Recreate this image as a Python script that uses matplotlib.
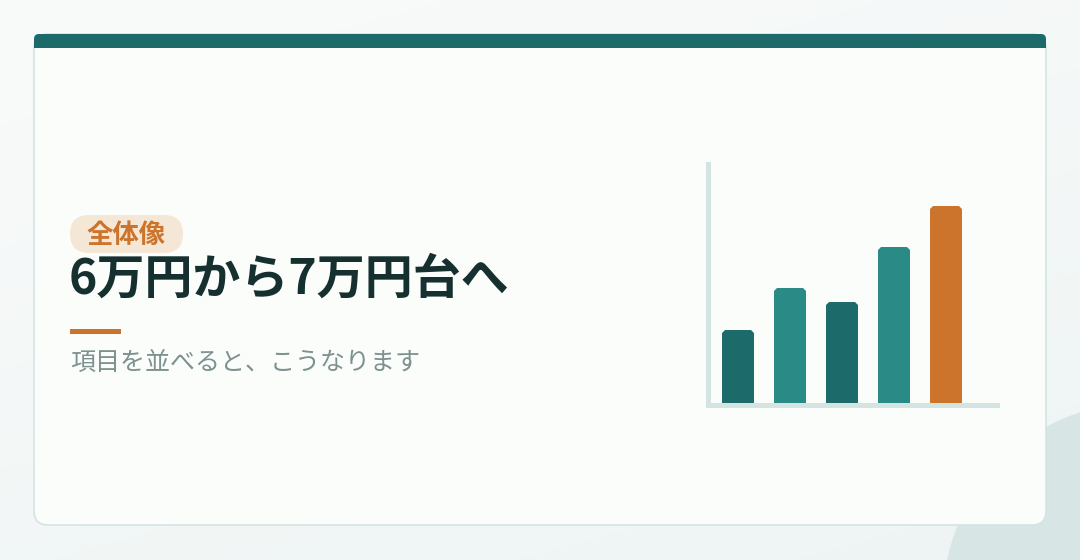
import numpy as np
import matplotlib
matplotlib.use("Agg")
import matplotlib.pyplot as plt
from matplotlib.patches import FancyBboxPatch, Circle, Rectangle

# ---- data ----
categories = ["項目1", "項目2", "項目3", "項目4", "項目5"]
values = [36.0, 57.3, 50.1, 77.8, 98.5]
bar_colors = ["#1d6a6a", "#2a8a85", "#1d6a6a", "#2a8a85", "#cc742b"]
badge_text = "全体像"
title_text = "6万円から7万円台へ"
subtitle_text = "項目を並べると、こうなります"

FONT = ["Noto Sans CJK JP", "DejaVu Sans"]
plt.rcParams["font.family"] = FONT

W, H = 1080, 560
fig = plt.figure(figsize=(W / 100, H / 100), dpi=100)

# background axes in pixel coordinates
bg = fig.add_axes([0, 0, 1, 1])
bg.set_xlim(0, W)
bg.set_ylim(H, 0)
bg.axis("off")

# gradient background
grad = np.linspace(0, 1, 256)
gx, gy = np.meshgrid(grad, grad)
t = (0.35 * gx + 0.65 * gy)
c0 = np.array([0xf9, 0xfb, 0xfa]) / 255
c1 = np.array([0xee, 0xf4, 0xf4]) / 255
img = c0[None, None, :] * (1 - t[..., None]) + c1[None, None, :] * t[..., None]
bg.imshow(img, extent=[0, W, H, 0], aspect="auto", zorder=0)

# decorative circle
bg.add_patch(Circle((1140, 600), 197, facecolor="#d7e6e5", edgecolor="none", zorder=1))

# card
bg.add_patch(FancyBboxPatch((34, 34), 1012, 491, boxstyle="round,pad=0,rounding_size=14",
                            facecolor="#fbfdfb", edgecolor="#d4e4e3", linewidth=1.2, zorder=2))
# top bar
bg.add_patch(FancyBboxPatch((34, 34), 1012, 14, boxstyle="round,pad=0,rounding_size=5",
                            facecolor="#1d6a6a", edgecolor="none", zorder=3))
bg.add_patch(Rectangle((34, 42), 1012, 6, facecolor="#1d6a6a", edgecolor="none", zorder=3))

# badge pill
bg.add_patch(FancyBboxPatch((70, 215), 113, 38, boxstyle="round,pad=0,rounding_size=19",
                            facecolor="#f5e7d6", edgecolor="none", zorder=3))
bg.text(126, 243, badge_text, ha="center", va="baseline", fontsize=19,
        fontweight="bold", color="#cc742b", family=FONT, zorder=4)

# title
bg.text(69, 294, title_text, ha="left", va="baseline", fontsize=34.6,
        fontweight="bold", color="#15302e", family=FONT, zorder=4)

# orange rule
bg.add_patch(Rectangle((70, 329), 51, 5, facecolor="#cc742b", edgecolor="none", zorder=3))

# subtitle
bg.text(70, 369.5, subtitle_text, ha="left", va="baseline", fontsize=18,
        color="#7d918f", family=FONT, zorder=4)

# ---- bar chart ----
left_px, right_px = 707.5, 996.5
top_px, bot_px = 164.5, 404.5
ax = fig.add_axes([left_px / W, 1 - bot_px / H, (right_px - left_px) / W, (bot_px - top_px) / H])
ax.set_facecolor("none")
x = np.arange(len(categories))
ax.bar(x, values, width=0.5, color=bar_colors, edgecolor=bar_colors,
       linewidth=4.3, joinstyle="bevel", zorder=1)
ax.set_xlim(-0.5865, 4.971)
ax.set_ylim(0, 120.9)
ax.set_xticks([])
ax.set_yticks([])
for s in ["top", "right"]:
    ax.spines[s].set_visible(False)
for s in ["left", "bottom"]:
    ax.spines[s].set_color("#d4e4e3")
    ax.spines[s].set_linewidth(3.6)
    ax.spines[s].set_capstyle("projecting")
    ax.spines[s].set_zorder(3)

fig.savefig("out.png", dpi=100)
